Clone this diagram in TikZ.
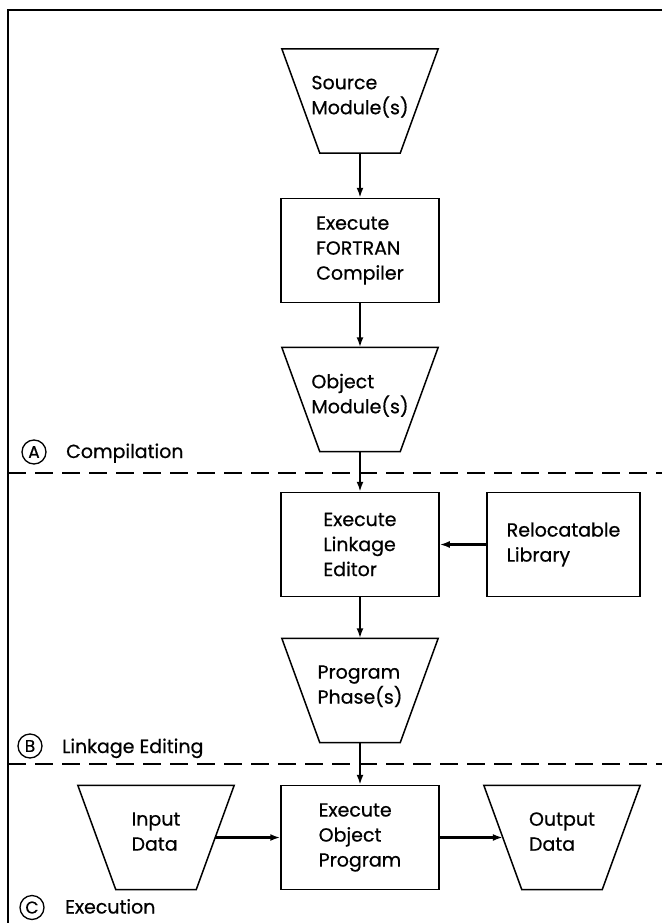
\documentclass[tikz,border=0pt]{standalone}
\usepackage{fontspec}
\setmainfont{Poppins}
\newfontfamily\labelfam{Poppins}[FakeBold=0.6]
\usetikzlibrary{arrows.meta}
\newcommand\boxfont{\labelfam\fontsize{19pt}{25pt}\selectfont}
\newcommand\letterfont{\labelfam\fontsize{17pt}{17pt}\selectfont}
% outline of a file symbol: wide edge on top, narrow edge below
\newcommand\trapoutline[1]{%
  \draw[outline] ([xshift=-19pt]#1.north west) -- ([xshift=19pt]#1.north east)
    -- ([xshift=-19pt]#1.south east) -- ([xshift=19pt]#1.south west) -- cycle;}
\begin{document}
\begin{tikzpicture}[x=1pt,y=-1pt,
  outline/.style={line width=1.5pt},
  procbox/.style={draw, outline, minimum width=158pt, minimum height=104pt,
    align=left, inner sep=0pt, font=\boxfont},
  filebox/.style={minimum width=118pt, minimum height=104pt,
    align=left, inner sep=0pt, font=\boxfont, text depth=12pt},
  flow/.style={line width=2.4pt, -{Latex[length=10pt,width=7pt]}},
  divider/.style={line width=1.3pt, dash pattern=on 18pt off 9pt},
  phasemark/.style={circle, draw, line width=1.3pt, minimum size=24pt,
    inner sep=0pt, font=\letterfont},
  phasetext/.style={anchor=base west, inner sep=0pt, font=\boxfont},
]
\useasboundingbox (0,0) rectangle (662,923);

% frame and phase dividers
\draw[line width=1.8pt] (662,10) -- (8,10) -- (8,923);
\draw[divider] (8,473) -- (662,473);
\draw[divider] (8,764) -- (662,764);

% compilation
\node[filebox] (src) at (360,101) {Source\\Module(s)};
\trapoutline{src}
\node[procbox] (comp) at (360,250.5) {Execute\\FORTRAN\\Compiler};
\node[filebox] (obj) at (360,399.5) {Object\\Module(s)};
\trapoutline{obj}

% linkage editing
\node[procbox] (link) at (360,544.5) {Execute\\Linkage\\Editor};
\node[procbox, minimum width=153pt] (lib) at (563.5,544.5) {Relocatable\\Library};
\node[filebox] (phase) at (360,690.5) {Program\\Phase(s)};
\trapoutline{phase}

% execution
\node[procbox] (run) at (360,837.5) {Execute\\Object\\Program};
\node[filebox] (in) at (156,837.5) {Input\\Data};
\trapoutline{in}
\node[filebox] (out) at (562,837.5) {Output\\Data};
\trapoutline{out}

% connectors
\draw[flow] (src.south) -- (comp.north);
\draw[flow] (comp.south) -- (obj.north);
\draw[flow] (obj.south) -- (link.north);
\draw[flow] (lib.west) -- (link.east);
\draw[flow] (link.south) -- (phase.north);
\draw[flow] (phase.south) -- (run.north);
\draw[flow] (in.east) -- (run.west);
\draw[flow] (run.east) -- (out.west);

% phase labels
\node[phasemark] (ma) at (34,452) {A};
\node[phasetext] (la) at (66,458) {Compilation};
\node[phasemark] (mb) at (30,746) {B};
\node[phasetext] (lb) at (62,753) {Linkage Editing};
\node[phasemark] (mc) at (32,907.5) {C};
\node[phasetext] (lc) at (65,913.5) {Execution};
\end{tikzpicture}
\end{document}
